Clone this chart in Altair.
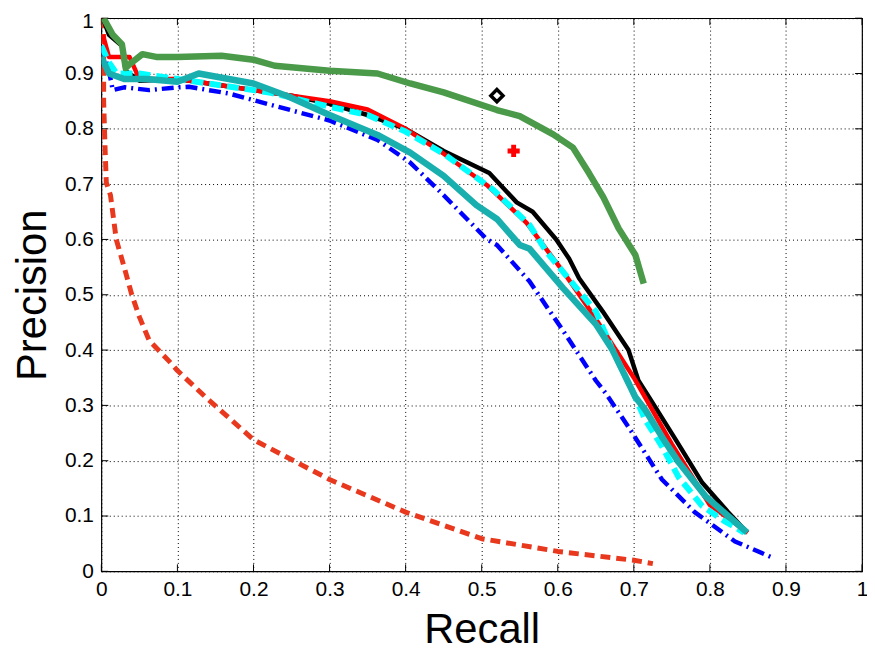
import altair as alt
import pandas as pd

# ---- data ----
green_x = [0.003, 0.007, 0.015, 0.027, 0.032, 0.04, 0.054, 0.072, 0.1, 0.158, 0.2, 0.228, 0.3, 0.363, 0.406, 0.45, 0.52, 0.55, 0.594, 0.62, 0.641, 0.66, 0.68, 0.702, 0.713]
green_y = [1.0, 0.99, 0.97, 0.953, 0.91, 0.92, 0.935, 0.93, 0.93, 0.932, 0.925, 0.914, 0.905, 0.90, 0.882, 0.866, 0.834, 0.823, 0.79, 0.766, 0.72, 0.676, 0.62, 0.572, 0.52]

black_x = [0.002, 0.01, 0.027, 0.032, 0.05, 0.1, 0.15, 0.2, 0.25, 0.3, 0.35, 0.4, 0.45, 0.51, 0.546, 0.567, 0.598, 0.615, 0.628, 0.659, 0.693, 0.706, 0.72, 0.755, 0.79, 0.824, 0.849]
black_y = [1.0, 0.97, 0.95, 0.905, 0.887, 0.89, 0.88, 0.87, 0.86, 0.845, 0.825, 0.80, 0.76, 0.72, 0.667, 0.65, 0.60, 0.565, 0.53, 0.47, 0.40, 0.345, 0.315, 0.238, 0.16, 0.107, 0.07]

red_x = [0.002, 0.01, 0.037, 0.05, 0.1, 0.15, 0.2, 0.25, 0.3, 0.35, 0.4, 0.45, 0.507, 0.559, 0.607, 0.646, 0.7, 0.75, 0.8, 0.85]
red_y = [0.97, 0.93, 0.93, 0.89, 0.89, 0.88, 0.87, 0.86, 0.85, 0.835, 0.80, 0.755, 0.698, 0.63, 0.542, 0.465, 0.35, 0.23, 0.12, 0.07]

cyan_x = [0.0, 0.01, 0.02, 0.05, 0.1, 0.115, 0.15, 0.2, 0.223, 0.3, 0.35, 0.4, 0.45, 0.515, 0.563, 0.585, 0.65, 0.672, 0.698, 0.715, 0.737, 0.759, 0.79, 0.82, 0.845]
cyan_y = [0.95, 0.92, 0.9, 0.9, 0.89, 0.887, 0.88, 0.87, 0.865, 0.84, 0.825, 0.795, 0.755, 0.69, 0.626, 0.578, 0.47, 0.40, 0.327, 0.274, 0.226, 0.17, 0.118, 0.09, 0.07]

teal_x = [0.0, 0.01, 0.03, 0.06, 0.1, 0.128, 0.2, 0.245, 0.3, 0.363, 0.406, 0.45, 0.493, 0.52, 0.55, 0.563, 0.607, 0.65, 0.672, 0.702, 0.715, 0.737, 0.759, 0.794, 0.824, 0.849]
teal_y = [0.93, 0.9, 0.89, 0.89, 0.885, 0.90, 0.882, 0.859, 0.825, 0.789, 0.757, 0.715, 0.662, 0.637, 0.59, 0.583, 0.512, 0.447, 0.40, 0.315, 0.292, 0.243, 0.197, 0.136, 0.10, 0.07]

blue_x = [0.0, 0.01, 0.015, 0.03, 0.063, 0.1, 0.115, 0.167, 0.232, 0.3, 0.363, 0.406, 0.45, 0.507, 0.52, 0.563, 0.607, 0.65, 0.663, 0.693, 0.737, 0.78, 0.833, 0.885]
blue_y = [0.95, 0.905, 0.87, 0.875, 0.87, 0.875, 0.876, 0.864, 0.84, 0.815, 0.78, 0.739, 0.68, 0.60, 0.59, 0.524, 0.435, 0.345, 0.322, 0.261, 0.166, 0.107, 0.054, 0.023]

orange_x = [0.003, 0.003, 0.005, 0.0065, 0.012, 0.0196, 0.03, 0.04, 0.05, 0.063, 0.075, 0.089, 0.1, 0.137, 0.2, 0.3, 0.4, 0.5, 0.6, 0.7, 0.725]
orange_y = [1.0, 0.85, 0.76, 0.703, 0.68, 0.60, 0.55, 0.50, 0.46, 0.417, 0.40, 0.38, 0.363, 0.315, 0.238, 0.166, 0.107, 0.059, 0.036, 0.02, 0.014]

diamond_pt = (0.52, 0.86)
plus_pt = (0.542, 0.76)

tick_values = [0, 0.1, 0.2, 0.3, 0.4, 0.5, 0.6, 0.7, 0.8, 0.9, 1.0]

W, H = 766, 557
FONT = "Liberation Sans"

xs = alt.Scale(domain=[0, 1], nice=False)
ys = alt.Scale(domain=[0, 1], nice=False)

x_axis = alt.Axis(values=tick_values, format="~g", grid=True, title="Recall",
                  labelFontSize=21, titleFontSize=42, labelPadding=7, titlePadding=11,
                  tickSize=0, domain=False)
y_axis = alt.Axis(values=tick_values, format="~g", grid=True, title="Precision",
                  labelFontSize=21, titleFontSize=42, labelPadding=8, titlePadding=10,
                  labelOffset=alt.ExprRef("datum.value == 1 ? 3 : 0"),
                  tickSize=0, domain=False)

X = lambda f: alt.X(f, scale=xs, axis=x_axis)
Y = lambda f: alt.Y(f, scale=ys, axis=y_axis)


def line(xv, yv, color, width, dash=None):
    df = pd.DataFrame({"x": xv, "y": yv, "i": range(len(xv))})
    kw = dict(color=color, strokeWidth=width, clip=True, strokeJoin="round")
    if dash:
        kw["strokeDash"] = dash
        kw["strokeCap"] = "butt"
    return alt.Chart(df).mark_line(**kw).encode(
        x=X("x:Q"), y=Y("y:Q"), order="i:Q",
    )


tdf = pd.DataFrame({"t": tick_values})
ticks_b = alt.Chart(tdf).mark_rule(color="black", strokeWidth=1).encode(
    x=X("t:Q"), y=alt.value(H), y2=alt.value(H - 7))
ticks_t = alt.Chart(tdf).mark_rule(color="black", strokeWidth=1).encode(
    x=X("t:Q"), y=alt.value(0), y2=alt.value(7))
ticks_l = alt.Chart(tdf).mark_rule(color="black", strokeWidth=1).encode(
    y=Y("t:Q"), x=alt.value(0), x2=alt.value(7))
ticks_r = alt.Chart(tdf).mark_rule(color="black", strokeWidth=1).encode(
    y=Y("t:Q"), x=alt.value(W), x2=alt.value(W - 7))

orange = line(orange_x, orange_y, "#e8391e", 5, [10, 6])
blue = line(blue_x, blue_y, "#0000ff", 4.5, [12, 5, 2, 5])
black = line(black_x, black_y, "#000000", 4.5)
red = line(red_x, red_y, "#ff0000", 4.5)
cyan = line(cyan_x, cyan_y, "#00ffff", 6, [12, 6])
teal = line(teal_x, teal_y, "#1aafaf", 6.5)
green = line(green_x, green_y, "#4a9a4a", 6.5)

dia = alt.Chart(pd.DataFrame({"x": [diamond_pt[0]], "y": [diamond_pt[1]]})).mark_point(
    shape="diamond", filled=False, color="black", strokeWidth=3.5, size=150, opacity=1
).encode(x=X("x:Q"), y=Y("y:Q"))
plus = alt.Chart(pd.DataFrame({"x": [plus_pt[0]], "y": [plus_pt[1]]})).mark_point(
    shape="cross", filled=True, color="#ff0000", opacity=1, size=150
).encode(x=X("x:Q"), y=Y("y:Q"))

chart = alt.layer(
    ticks_b, ticks_t, ticks_l, ticks_r,
    orange, blue, black, red, cyan, teal, green, dia, plus
).properties(
    width=W, height=H,
    autosize=alt.AutoSizeParams(type="none"),
    padding={"left": 94, "top": 8, "right": 5, "bottom": 84},
    background="white",
).configure_view(
    stroke="black", strokeWidth=1.2
).configure_axis(
    gridColor="black", gridDash=[1, 3], gridOpacity=1, gridWidth=1,
    labelFont=FONT, titleFont=FONT, labelColor="black", titleColor="black",
    titleFontWeight="normal", labelFlush=False
)

chart.save("out.html", embed_options={"renderer": "svg", "actions": False})
